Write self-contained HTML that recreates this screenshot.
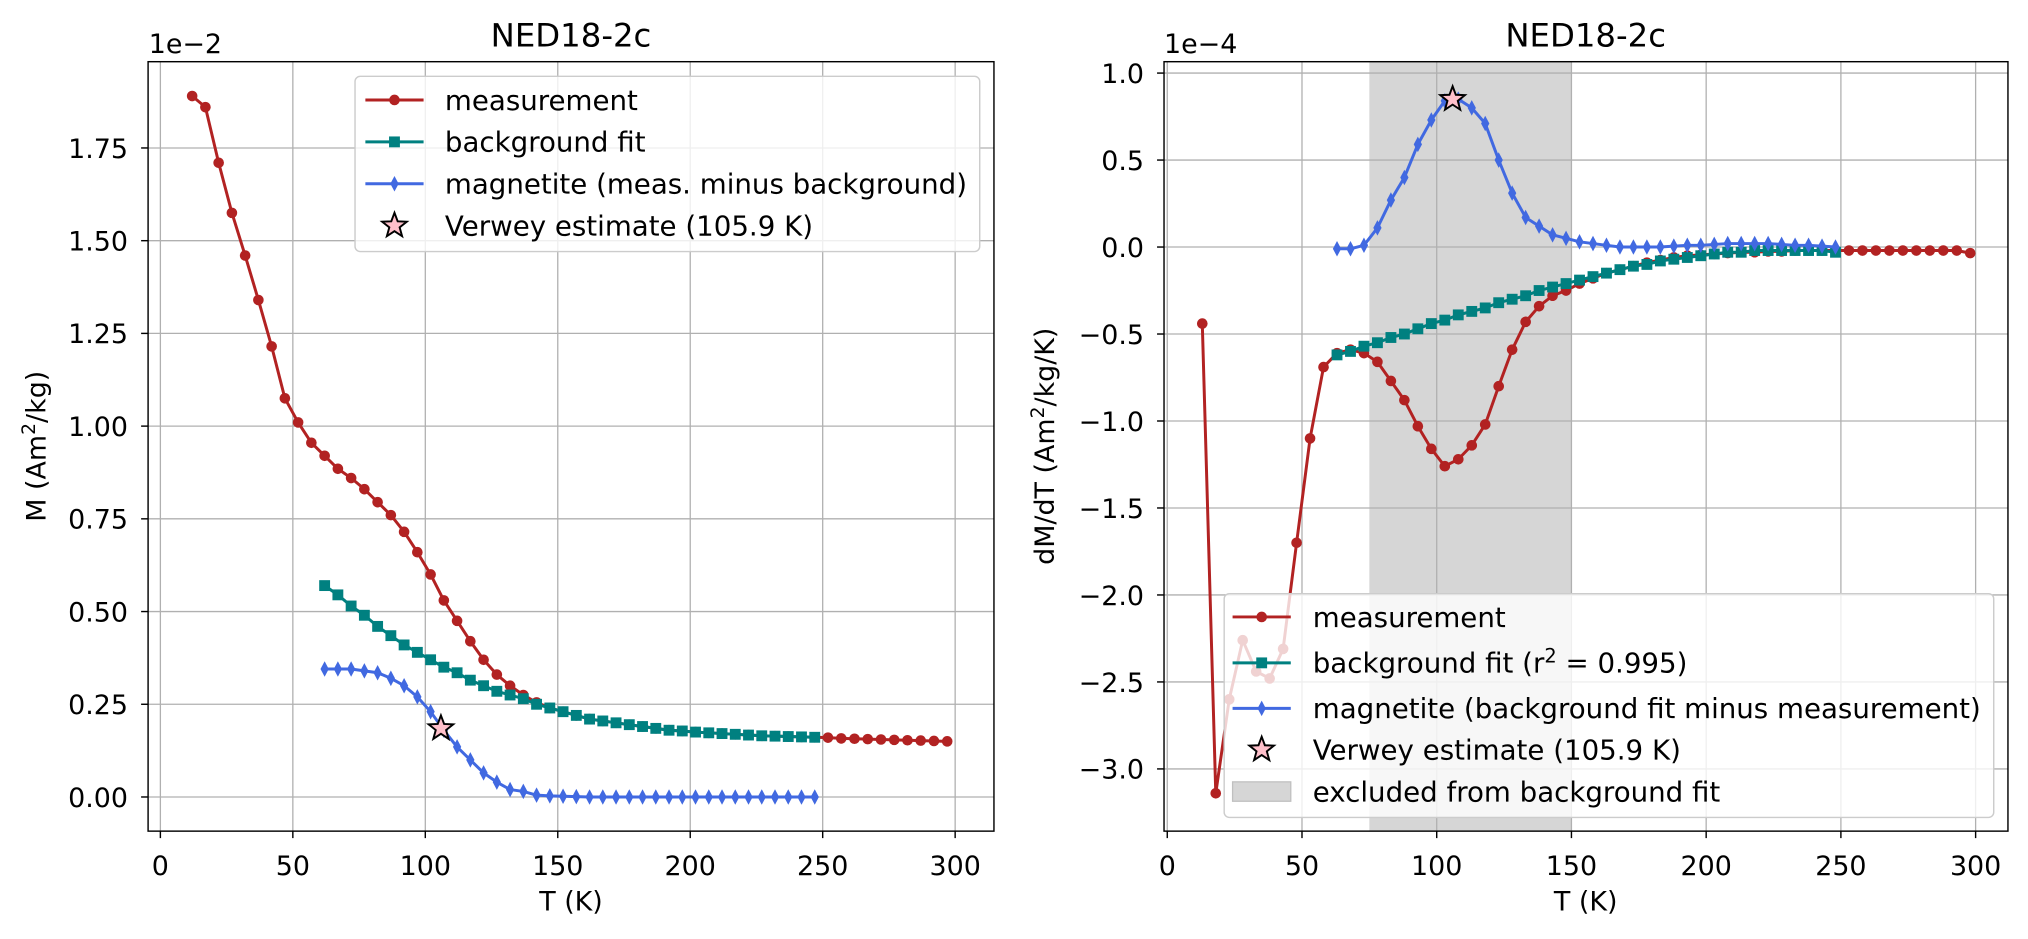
<!DOCTYPE html>
<html><head><meta charset="utf-8"><style>
html,body{margin:0;padding:0;background:#fff;}
svg{display:block;font-family:"DejaVu Sans","Liberation Sans",sans-serif;}
</style></head><body>
<svg id="fig" width="2028" height="939" viewBox="0 0 1568 726" preserveAspectRatio="none" xmlns="http://www.w3.org/2000/svg"></svg>
<script>
// ---- Left panel data (M, x1e-2) ----
const leftMeasT = [12,17,22,27,32,37,42,47,52,57,62,67,72,77,82,87,92,97,102,107,112,117,122,127,132,137,142,147,152,157,162,167,172,177,182,187,192,197,202,207,212,217,222,227,232,237,242,247,252,257,262,267,272,277,282,287,292,297];
const leftMeasM = [1.89,1.86,1.71,1.575,1.46,1.34,1.215,1.075,1.01,0.955,0.92,0.885,0.86,0.83,0.795,0.76,0.715,0.66,0.60,0.53,0.475,0.42,0.37,0.33,0.30,0.275,0.255,0.24,0.23,0.22,0.21,0.205,0.20,0.195,0.19,0.185,0.18,0.178,0.175,0.173,0.171,0.169,0.167,0.165,0.164,0.163,0.162,0.161,0.16,0.158,0.157,0.156,0.155,0.154,0.153,0.152,0.151,0.15];
const leftBgT = [62,67,72,77,82,87,92,97,102,107,112,117,122,127,132,137,142,147,152,157,162,167,172,177,182,187,192,197,202,207,212,217,222,227,232,237,242,247];
const leftBgM = [0.57,0.545,0.515,0.49,0.46,0.435,0.41,0.39,0.37,0.35,0.335,0.315,0.30,0.285,0.275,0.265,0.25,0.24,0.23,0.22,0.21,0.205,0.20,0.195,0.19,0.185,0.18,0.178,0.175,0.173,0.171,0.169,0.167,0.165,0.164,0.163,0.162,0.161];
const leftMagM = [0.345,0.345,0.345,0.34,0.335,0.32,0.30,0.27,0.23,0.18,0.135,0.10,0.065,0.04,0.02,0.015,0.005,0.003,0.002,0.001,0,0,0,0,0,0,0,0,0,0,0,0,0,0,0,0,0,0];
const leftStar = [105.9, 0.185];
const leftYTicks = [0,0.25,0.5,0.75,1.0,1.25,1.5,1.75];
const leftYLabels = ["0.00","0.25","0.50","0.75","1.00","1.25","1.50","1.75"];
const xTicks = [0,50,100,150,200,250,300];
// ---- Right panel data (dM/dT, x1e-4) ----
const rightMeasT = [13,18,23,28,33,38,43,48,53,58,63,68,73,78,83,88,93,98,103,108,113,118,123,128,133,138,143,148,153,158,163,168,173,178,183,188,193,198,203,208,213,218,223,228,233,238,243,248,253,258,263,268,273,278,283,288,293,298];
const rightMeasD = [-0.44,-3.14,-2.6,-2.26,-2.44,-2.48,-2.31,-1.70,-1.10,-0.69,-0.61,-0.59,-0.61,-0.66,-0.77,-0.88,-1.03,-1.16,-1.26,-1.22,-1.14,-1.02,-0.80,-0.59,-0.43,-0.34,-0.28,-0.25,-0.21,-0.18,-0.15,-0.13,-0.11,-0.09,-0.075,-0.06,-0.05,-0.045,-0.04,-0.035,-0.03,-0.03,-0.025,-0.025,-0.02,-0.02,-0.02,-0.02,-0.02,-0.02,-0.02,-0.02,-0.02,-0.02,-0.02,-0.02,-0.02,-0.035];
const rightBgT = [63,68,73,78,83,88,93,98,103,108,113,118,123,128,133,138,143,148,153,158,163,168,173,178,183,188,193,198,203,208,213,218,223,228,233,238,243,248];
const rightBgD = [-0.62,-0.60,-0.57,-0.55,-0.52,-0.50,-0.47,-0.44,-0.42,-0.39,-0.37,-0.35,-0.32,-0.30,-0.28,-0.25,-0.23,-0.21,-0.19,-0.17,-0.15,-0.13,-0.11,-0.10,-0.08,-0.07,-0.06,-0.05,-0.04,-0.03,-0.03,-0.02,-0.02,-0.02,-0.02,-0.02,-0.02,-0.03];
const rightMagD = [-0.01,-0.01,0.01,0.11,0.27,0.40,0.59,0.73,0.84,0.85,0.80,0.71,0.50,0.31,0.17,0.12,0.07,0.05,0.03,0.02,0.01,0,0,0,0,0.005,0.01,0.01,0.015,0.02,0.02,0.02,0.02,0.015,0.01,0.01,0.005,0];
const rightStar = [105.9, 0.85];
const excluded = [75,150];
const rightYTicks = [1.0,0.5,0,-0.5,-1.0,-1.5,-2.0,-2.5,-3.0];
const rightYLabels = ["1.0","0.5","0.0","\u22120.5","\u22121.0","\u22121.5","\u22122.0","\u22122.5","\u22123.0"];

const NS="http://www.w3.org/2000/svg";
const svg=document.getElementById('fig');
function el(tag,attrs,parent){const e=document.createElementNS(NS,tag);for(const k in attrs)e.setAttribute(k,attrs[k]);(parent||svg).appendChild(e);return e;}
function txt(s,x,y,size,anchor,parent,extra){const t=el('text',Object.assign({x:x,y:y,'font-size':size,'text-anchor':anchor||'start',fill:'#000'},extra||{}),parent);t.textContent=s;return t;}
const RED='#b22222',TEAL='#008080',BLUE='#4169e1';
const TICK=20.8, LEG=21.4, TITLE=25, LAB=20.8;

function starPath(cx,cy,R){const r=R*0.42;let d='';for(let i=0;i<10;i++){const a=-Math.PI/2+i*Math.PI/5;const rr=i%2?r:R;d+=(i?'L':'M')+(cx+rr*Math.cos(a)).toFixed(2)+','+(cy+rr*Math.sin(a)).toFixed(2);}return d+'Z';}
function marker(g,type,x,y,color){
  let m;
  if(type==='o'){m=el('circle',{cx:x,cy:y,r:4.1,fill:color},g);}
  else if(type==='s'){m=el('rect',{x:x-4.2,y:y-4.2,width:8.4,height:8.4,fill:color},g);}
  else {m=el('path',{d:`M${x},${y-6}L${x+3.2},${y}L${x},${y+6}L${x-3.2},${y}Z`,fill:color},g);}
  
  
}
function series(g,xs,ys,sx,sy,color,type,name){
  const sg=el('g',{},g);
  
  
  let d='';xs.forEach((t,i)=>{d+=(i?'L':'M')+sx(t).toFixed(2)+','+sy(ys[i]).toFixed(2);});
  el('path',{d:d,fill:'none',stroke:color,'stroke-width':2.3,'stroke-linejoin':'round'},sg);
  xs.forEach((t,i)=>marker(sg,type,sx(t),sy(ys[i]),color));
}
function axesFrame(g,L,R,T,B,sx,sy,yTicks,name){
  const grid=el('g',{},g);
  
  
  xTicks.forEach(v=>el('line',{x1:sx(v),x2:sx(v),y1:T,y2:B,stroke:'#b0b0b0','stroke-width':1},grid));
  yTicks.forEach(v=>el('line',{x1:L,x2:R,y1:sy(v),y2:sy(v),stroke:'#b0b0b0','stroke-width':1},grid));
}
function axesDecor(g,L,R,T,B,sx,sy,yTicks,yLabels,name){
  const ax=el('g',{},g);
  
  
  el('rect',{x:L,y:T,width:R-L,height:B-T,fill:'none',stroke:'#000','stroke-width':1.1},ax);
  xTicks.forEach(v=>{el('line',{x1:sx(v),x2:sx(v),y1:B,y2:B+5.4,stroke:'#000','stroke-width':1.1},ax);
    const t=txt(String(v),sx(v),B+34,TICK,'middle',ax);
    
    });
  yTicks.forEach((v,i)=>{el('line',{x1:L-5.4,x2:L,y1:sy(v),y2:sy(v),stroke:'#000','stroke-width':1.1},ax);
    const t=txt(yLabels[i],L-15.5,sy(v)+7.6,TICK,'end',ax);
    
    });
}

// ---------- LEFT PANEL ----------
const gL=el('g',{});


const LL=114.5,LR=768.5,LT=47.7,LB=642.6;
const sxL=t=>124+t*(738.5-124)/300;
const syL=v=>616.2-v*(616.2-114.4)/1.75;
axesFrame(gL,LL,LR,LT,LB,sxL,syL,leftYTicks,'left');
series(gL,leftMeasT,leftMeasM,sxL,syL,RED,'o','left-measurement-series');
series(gL,leftBgT,leftBgM,sxL,syL,TEAL,'s','left-background-fit-series');
series(gL,leftBgT,leftMagM,sxL,syL,BLUE,'d','left-magnetite-series');
let st=el('path',{d:starPath(sxL(leftStar[0]),syL(leftStar[1]),10),fill:'#ffc0cb',stroke:'#000','stroke-width':1.5},gL);


axesDecor(gL,LL,LR,LT,LB,sxL,syL,leftYTicks,leftYLabels,'left');
let t1=txt('NED18-2c',441.5,36,TITLE,'middle',gL);
let t2=txt('1e\u22122',115,41,TICK,'start',gL);
let t3=txt('T (K)',441.5,704,LAB,'middle',gL);
let t4=el('text',{x:0,y:0,'font-size':LAB,'text-anchor':'middle',transform:'translate(35,345) rotate(-90)'},gL);
t4.innerHTML='M (Am<tspan dy="-8" font-size="14.5">2</tspan><tspan dy="8">/kg)</tspan>';


// left legend
const lgL=el('g',{},gL);


el('rect',{x:274.5,y:59,width:483,height:135.5,rx:4,fill:'#fff','fill-opacity':0.8,stroke:'#cccccc','stroke-width':1.1},lgL);
const legL=[['measurement',RED,'o'],['background fit',TEAL,'s'],['magnetite (meas. minus background)',BLUE,'d'],['Verwey estimate (105.9 K)',null,'*']];
legL.forEach((e,i)=>{const y=77.3+i*32.4;
  if(e[2]==='*'){el('path',{d:starPath(305,y,10),fill:'#ffc0cb',stroke:'#000','stroke-width':1.5},lgL);}
  else{el('line',{x1:282.5,x2:327.5,y1:y,y2:y,stroke:e[1],'stroke-width':2.3},lgL);marker(lgL,e[2],305,y,e[1]);}
  const t=txt(e[0],344,y+7.6,LEG,'start',lgL);
  
  
});

// ---------- RIGHT PANEL ----------
const gR=el('g',{});


const RL=900,RR=1552.5,RT=47.7,RB=642.6;
const sxR=t=>902.5+t*(1527.5-902.5)/300;
const syR=v=>191-v*(191-56.5);
let ex=el('rect',{x:sxR(excluded[0]),y:RT,width:sxR(excluded[1])-sxR(excluded[0]),height:RB-RT,fill:'#d6d6d6'},gR);


axesFrame(gR,RL,RR,RT,RB,sxR,syR,rightYTicks,'right');
series(gR,rightMeasT,rightMeasD,sxR,syR,RED,'o','right-measurement-series');
series(gR,rightBgT,rightBgD,sxR,syR,TEAL,'s','right-background-fit-series');
series(gR,rightBgT,rightMagD,sxR,syR,BLUE,'d','right-magnetite-series');
st=el('path',{d:starPath(sxR(rightStar[0]),syR(rightStar[1]),10),fill:'#ffc0cb',stroke:'#000','stroke-width':1.5},gR);


axesDecor(gR,RL,RR,RT,RB,sxR,syR,rightYTicks,rightYLabels,'right');
let r1=txt('NED18-2c',1226,36,TITLE,'middle',gR);
let r2=txt('1e\u22124',900,41,TICK,'start',gR);
let r3=txt('T (K)',1226,704,LAB,'middle',gR);
let r4=el('text',{x:0,y:0,'font-size':LAB,'text-anchor':'middle',transform:'translate(815,345) rotate(-90)'},gR);
r4.innerHTML='dM/dT (Am<tspan dy="-8" font-size="14.5">2</tspan><tspan dy="8">/kg/K)</tspan>';


// right legend
const lgR=el('g',{},gR);


el('rect',{x:946.5,y:459,width:595,height:173,rx:4,fill:'#fff','fill-opacity':0.8,stroke:'#cccccc','stroke-width':1.1},lgR);
const legR=[['measurement',RED,'o'],['background fit (r²)',TEAL,'s'],['magnetite (background fit minus measurement)',BLUE,'d'],['Verwey estimate (105.9 K)',null,'*'],['excluded from background fit',null,'patch']];
const legRY=[477,512.5,547.7,579.6,612];
legR.forEach((e,i)=>{const y=legRY[i];
  if(e[2]==='*'){el('path',{d:starPath(975.5,y,10),fill:'#ffc0cb',stroke:'#000','stroke-width':1.5},lgR);}
  else if(e[2]==='patch'){el('rect',{x:953,y:y-7.5,width:45,height:15,fill:'#d6d6d6',stroke:'#c0c0c0','stroke-width':1},lgR);}
  else{el('line',{x1:953,x2:998,y1:y,y2:y,stroke:e[1],'stroke-width':2.3},lgR);marker(lgR,e[2],975.5,y,e[1]);}
  let t;
  if(i===1){t=el('text',{x:1015,y:y+7.6,'font-size':LEG,fill:'#000'},lgR);t.innerHTML='background fit (r<tspan dy="-8" font-size="15">2</tspan><tspan dy="8"> = 0.995)</tspan>';}
  else t=txt(e[0],1015,y+7.6,LEG,'start',lgR);
  
  
});
</script>
</body></html>
